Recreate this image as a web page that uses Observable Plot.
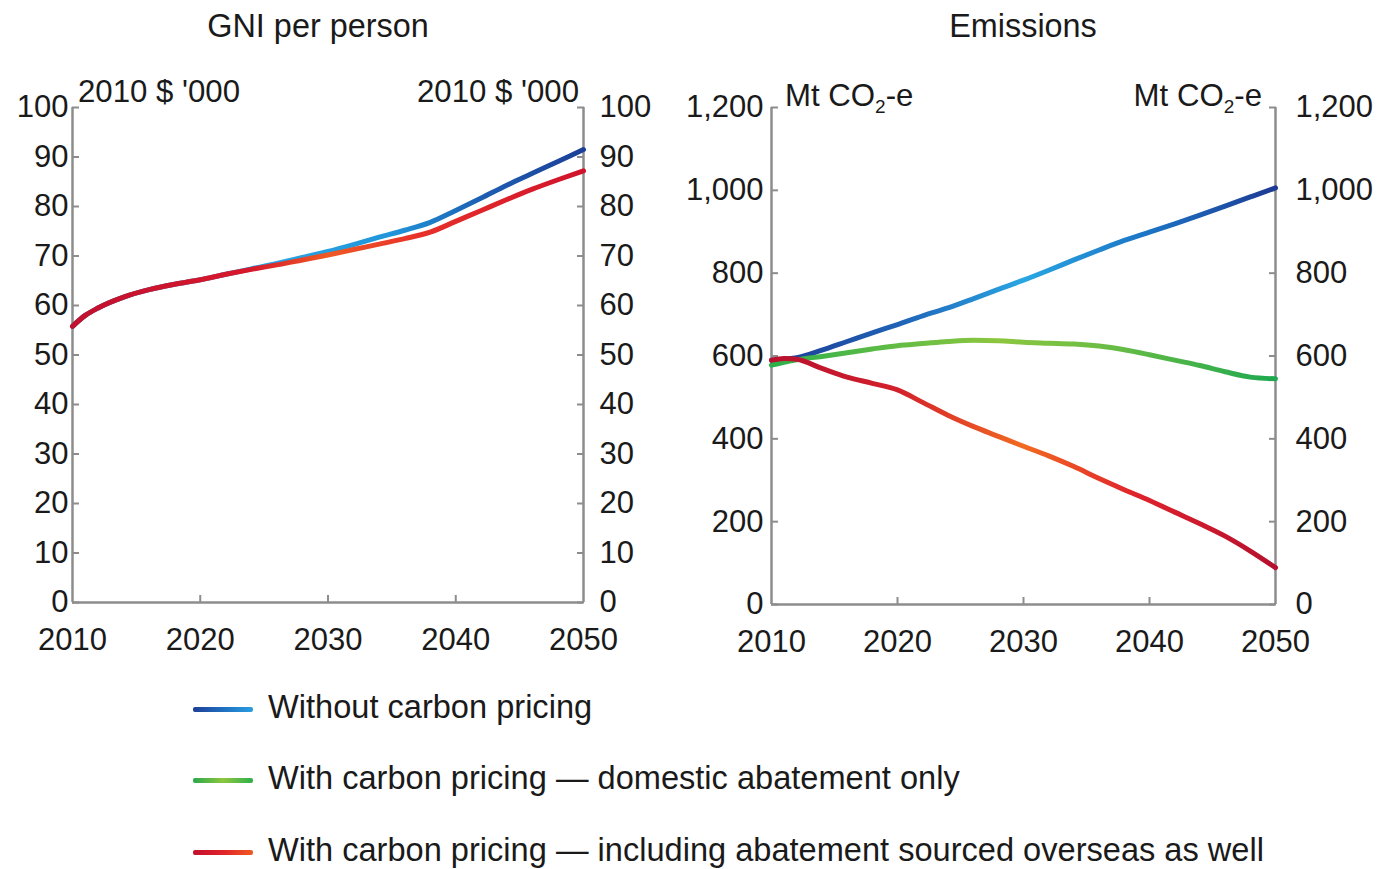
<!DOCTYPE html>
<html><head><meta charset="utf-8">
<script src="https://cdn.jsdelivr.net/npm/d3@7"></script>
<script src="https://cdn.jsdelivr.net/npm/@observablehq/plot@0.6"></script>
<style>
body{margin:0;background:#fff;}
#wrap{position:relative;width:1381px;height:869px;font-family:"Liberation Sans",Arial,sans-serif;color:#1a1a1a;overflow:hidden;}
.abs{position:absolute;white-space:nowrap;line-height:1;}
.panel{position:absolute;top:0;}
.title{font-size:32.4px;}
.unit{font-size:31.2px;}
.unit sub{font-size:19px;vertical-align:-7px;line-height:0;}
.leg{font-size:32.6px;}
.sw{position:absolute;width:60px;height:5px;border-radius:2px;}
</style></head><body><div id="wrap"></div>
<script>
// ---- data ----
const years = [2010, 2011, 2012, 2014, 2016, 2018, 2020, 2022, 2024, 2026, 2028, 2030, 2032, 2034, 2036, 2038, 2040, 2042, 2044, 2046, 2048, 2050];
// GNI per person, 2010 $ '000
const gniWithout = [55.8, 58.0, 59.5, 61.7, 63.2, 64.3, 65.2, 66.3, 67.4, 68.5, 69.7, 70.9, 72.3, 73.8, 75.2, 76.8, 79.2, 81.7, 84.3, 86.7, 89.1, 91.5];
const gniWithOverseas = [55.8, 58.0, 59.5, 61.7, 63.2, 64.3, 65.2, 66.3, 67.3, 68.2, 69.2, 70.2, 71.3, 72.4, 73.5, 74.8, 77.0, 79.2, 81.4, 83.5, 85.4, 87.2];
// Emissions, Mt CO2-e
const emWithout = [590, 592, 596, 614, 635, 656, 676, 697, 716, 738, 761, 783, 807, 832, 856, 879, 899, 919, 940, 962, 984, 1006];
const emDomestic = [578, 585, 591, 599, 608, 617, 625, 630, 635, 638, 637, 633, 631, 629, 624, 615, 603, 590, 577, 562, 549, 545];
const emOverseas = [590, 594, 592, 570, 549, 534, 518, 488, 457, 430, 406, 382, 359, 333, 304, 277, 251, 223, 195, 165, 129, 89];
// ticks
const xTicks = [2010, 2020, 2030, 2040, 2050];
const gniTicks = [0, 10, 20, 30, 40, 50, 60, 70, 80, 90, 100];
const emTicks = [0, 200, 400, 600, 800, 1000, 1200];
// labels
const seriesNames = ["Without carbon pricing", "With carbon pricing — domestic abatement only", "With carbon pricing — including abatement sourced overseas as well"];

const gray = "#8d8d8d";
const ink = "#1a1a1a";
const font = "'Liberation Sans', Arial, sans-serif";

const toRows = (vals) => years.map((year, i) => ({year, value: vals[i]}));

const gradients = {
  gBlue: [[0, "#1d55a8"], [0.4, "#27a3e2"], [0.62, "#2196da"], [0.8, "#1d5fb2"], [1, "#1c3f97"]],
  gRed: [[0, "#c2102e"], [0.35, "#d8192c"], [0.5, "#ee5a24"], [0.68, "#e8302a"], [1, "#d0132c"]],
  eBlue: [[0, "#1e3c96"], [0.25, "#1f62b6"], [0.5, "#29a6e3"], [0.75, "#1c73c4"], [1, "#1e3a94"]],
  eGreen: [[0, "#2db04a"], [0.45, "#8dc63f"], [0.7, "#63bb45"], [1, "#1fa84f"]],
  eRed: [[0, "#b8102e"], [0.25, "#d3202c"], [0.5, "#f26a21"], [0.72, "#e0232b"], [1, "#b5102f"]]
};

function addGradients(svg, ids) {
  const ns = "http://www.w3.org/2000/svg";
  const defs = document.createElementNS(ns, "defs");
  ids.forEach(id => {
    const lg = document.createElementNS(ns, "linearGradient");
    lg.setAttribute("id", id);
    lg.setAttribute("x1", "0"); lg.setAttribute("x2", "1");
    lg.setAttribute("y1", "0"); lg.setAttribute("y2", "0");
    gradients[id].forEach(([o, c]) => {
      const s = document.createElementNS(ns, "stop");
      s.setAttribute("offset", o);
      s.setAttribute("stop-color", c);
      lg.appendChild(s);
    });
    defs.appendChild(lg);
  });
  svg.insertBefore(defs, svg.firstChild);
}

function frameMarks(ticks, fmt, leftPad, rightPad) {
  return [
    Plot.ruleX([2010, 2050], {stroke: gray, strokeWidth: 2.5}),
    Plot.ruleY([0], {stroke: gray, strokeWidth: 2.5}),
    Plot.axisY(ticks, {anchor: "left", tickSize: 0, tickPadding: leftPad, tickFormat: fmt, label: null, fill: ink}),
    Plot.axisY(ticks, {anchor: "right", tickSize: 0, tickPadding: rightPad, tickFormat: fmt, label: null, fill: ink}),
    Plot.axisY(ticks, {anchor: "left", tickSize: 7, dx: 7, tickFormat: () => "", label: null, stroke: gray, strokeWidth: 2}),
    Plot.axisY(ticks, {anchor: "right", tickSize: 7, dx: -7, tickFormat: () => "", label: null, stroke: gray, strokeWidth: 2}),
    Plot.axisX(xTicks, {anchor: "bottom", tickSize: 0, tickPadding: 25, tickFormat: "d", label: null, fill: ink}),
    Plot.axisX(xTicks.slice(1, -1), {anchor: "bottom", tickSize: 7, dy: -7, tickFormat: () => "", label: null, stroke: gray, strokeWidth: 2})
  ];
}

const lineOpts = (id) => ({x: "year", y: "value", stroke: `url(#${id})`, strokeWidth: 5, curve: "monotone-x"});

const leftPlot = Plot.plot({
  width: 690, height: 660,
  marginLeft: 72, marginRight: 107, marginTop: 107, marginBottom: 58,
  style: {fontFamily: font, fontSize: "31px", color: ink, background: "transparent", overflow: "visible"},
  x: {domain: [2010, 2050], label: null},
  y: {domain: [0, 100], label: null},
  marks: [
    ...frameMarks(gniTicks, d => String(d), 4, 16),
    Plot.line(toRows(gniWithout), lineOpts("gBlue")),
    Plot.line(toRows(gniWithOverseas), lineOpts("gRed"))
  ]
});
addGradients(leftPlot, ["gBlue", "gRed"]);

const rightPlot = Plot.plot({
  width: 691, height: 660,
  marginLeft: 81, marginRight: 106, marginTop: 107, marginBottom: 56,
  style: {fontFamily: font, fontSize: "31px", color: ink, background: "transparent", overflow: "visible"},
  x: {domain: [2010, 2050], label: null},
  y: {domain: [0, 1200], label: null},
  marks: [
    ...frameMarks(emTicks, d3.format(","), 8, 20),
    Plot.line(toRows(emWithout), lineOpts("eBlue")),
    Plot.line(toRows(emDomestic), lineOpts("eGreen")),
    Plot.line(toRows(emOverseas), lineOpts("eRed"))
  ]
});
addGradients(rightPlot, ["eBlue", "eGreen", "eRed"]);

const wrap = document.getElementById("wrap");
const p1 = document.createElement("div"); p1.className = "panel"; p1.style.left = "0px"; p1.appendChild(leftPlot);
const p2 = document.createElement("div"); p2.className = "panel"; p2.style.left = "690px"; p2.appendChild(rightPlot);
wrap.appendChild(p1); wrap.appendChild(p2);

function addText(html, cls, css) {
  const d = document.createElement("div");
  d.className = "abs " + cls;
  d.innerHTML = html;
  Object.assign(d.style, css);
  wrap.appendChild(d);
  return d;
}
addText("GNI per person", "title", {left: "318px", top: "10px", transform: "translateX(-50%)"});
addText("Emissions", "title", {left: "1023px", top: "10px", transform: "translateX(-50%)"});
addText("2010 $ '000", "unit", {left: "78px", top: "76px"});
addText("2010 $ '000", "unit", {right: (1381 - 579) + "px", top: "76px"});
addText("Mt CO<sub>2</sub>-e", "unit", {left: "785px", top: "80px"});
addText("Mt CO<sub>2</sub>-e", "unit", {right: (1381 - 1262) + "px", top: "80px"});

const legendGrad = [
  "linear-gradient(90deg, #1d3f96, #1f6fc0 50%, #2a9ee0)",
  "linear-gradient(90deg, #2aa84a, #8dc63f 50%, #2db04a)",
  "linear-gradient(90deg, #c2102e, #e0232b 50%, #f05a22)"
];
const legendY = [709, 780, 852];
seriesNames.forEach((name, i) => {
  const sw = document.createElement("div");
  sw.className = "sw";
  sw.style.left = "193px";
  sw.style.top = (legendY[i] - 2.5) + "px";
  sw.style.background = legendGrad[i];
  wrap.appendChild(sw);
  addText(name, "leg", {left: "268px", top: (legendY[i] - 18) + "px"});
});
</script></body></html>
